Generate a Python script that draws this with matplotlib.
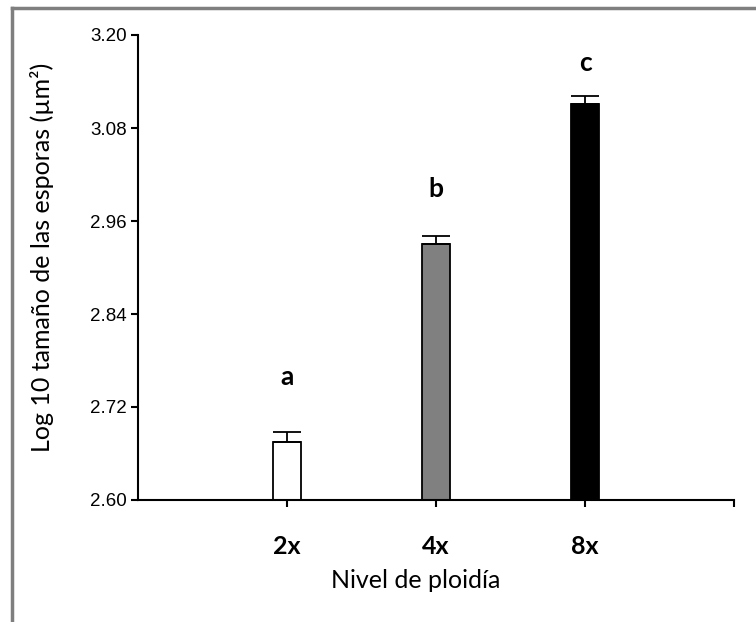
import matplotlib
matplotlib.use("Agg")
import matplotlib.pyplot as plt
from matplotlib.lines import Line2D

# data
levels = ["2x", "4x", "8x"]
means = [2.675, 2.930, 3.111]
errors = [0.013, 0.011, 0.010]
letters = ["a", "b", "c"]
letter_y = [2.759, 3.001, 3.164]
bar_colors = ["white", "#808080", "black"]
y_ticks = [2.60, 2.72, 2.84, 2.96, 3.08, 3.20]

W, H = 756, 622
fig = plt.figure(figsize=(W / 100, H / 100), dpi=100)
fig.patch.set_facecolor("white")

# axes placed to match the reference plot area (pixel coords)
left, right, top, bottom = 138, 734, 35, 500
ax = fig.add_axes([left / W, 1 - bottom / H, (right - left) / W, (bottom - top) / H])

x = list(range(1, len(levels) + 1))
ax.bar(x, means, width=0.19, bottom=0, color=bar_colors, edgecolor="black",
       linewidth=1.3, zorder=2)
ax.errorbar(x, means, yerr=[[0] * len(errors), errors], fmt="none", ecolor="black",
            elinewidth=1.3, capsize=10, capthick=1.3, zorder=3)

for xi, lab, ly in zip(x, letters, letter_y):
    ax.text(xi, ly, lab, ha="center", va="center", fontsize=19, fontweight="bold",
            family="Lato")

ax.set_xlim(0, 4)
ax.set_ylim(2.60, 3.20)
ax.set_yticks(y_ticks)
ax.set_yticklabels([f"{v:.2f}" for v in y_ticks], family="Liberation Sans", fontsize=13.5)
ax.set_xticks([1, 2, 3, 4])
ax.set_xticklabels(levels + [""], family="Lato", fontsize=18, fontweight="bold")

for side in ["top", "right"]:
    ax.spines[side].set_visible(False)
for side in ["left", "bottom"]:
    ax.spines[side].set_linewidth(1.5)
ax.tick_params(axis="y", direction="out", length=5, width=1.5, pad=3)
ax.tick_params(axis="x", direction="out", length=5, width=1.5, pad=20)

fig.text(42 / W, 1 - 257 / H, "Log 10 tamaño de las esporas (µm²)", rotation=90,
         ha="center", va="center", fontsize=18, family="Lato")
fig.text(416 / W, 1 - 581 / H, "Nivel de ploidía", ha="center", va="center",
         fontsize=18, family="Lato")

# gray frame, only top and left edges are visible in the reference
fig.add_artist(Line2D([12 / W, 1], [1 - 8 / H, 1 - 8 / H], color="#7f7f7f",
                      linewidth=2.5, transform=fig.transFigure))
fig.add_artist(Line2D([12 / W, 12 / W], [0, 1 - 8 / H], color="#7f7f7f",
                      linewidth=2.5, transform=fig.transFigure))

fig.savefig("out.png", dpi=100, facecolor="white")
